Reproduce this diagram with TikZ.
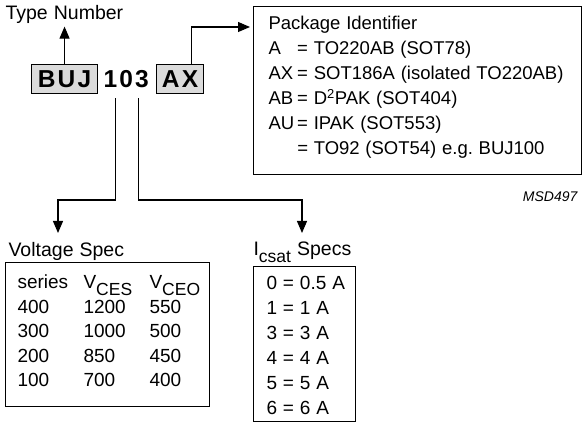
\documentclass[tikz,border=0pt]{standalone}
\usepackage{fontspec}
\setmainfont{Liberation Sans}
\newfontfamily\codefont[LetterSpace=9]{Liberation Sans Bold}
\usetikzlibrary{arrows.meta}
\newcommand{\lowsub}[1]{\raisebox{-6.5pt}{\fontsize{17.5}{17.5}\selectfont #1}}
\newcommand{\widesp}{\spaceskip=0.31em\relax}

\begin{document}
\begin{tikzpicture}[x=1pt,y=-1pt,line width=1.1pt,
  txt/.style={inner sep=0pt,font=\fontsize{19.5}{22}\selectfont\widesp},
  codebox/.style={draw,fill=black!14,minimum height=29pt,inner xsep=3pt,inner ysep=0pt,
    font=\codefont\fontsize{24.5}{24.5}\selectfont},
  box/.style={draw,anchor=north west,inner ysep=0pt,align=left},
  arr/.style={-{Triangle[length=12pt,width=10pt]}}]
  \useasboundingbox (0,0) rectangle (582,427); % Fix the page size
  \node[txt,anchor=base west] (type) at (5,20) {Type Number}; % Label the type
  \node[codebox,anchor=north west,minimum width=66pt] (buj) at (31,64) {BUJ}; % Type box
  \node[codebox,draw=none,fill=none,anchor=north west] (num) at (100,64) {103}; % Number
  \node[codebox,anchor=north west,minimum width=47pt] (ax) at (156,64) {AX}; % Package box
  \node[box,minimum width=328pt,minimum height=168pt,text width=298pt,inner xsep=15pt] (pkg) at (253,6)
    {\fontsize{18.5}{25}\selectfont\widesp
     \begin{tabular}{@{}l@{\hspace{3pt}}l@{}}
       \multicolumn{2}{@{}l}{Package Identifier}\\
       A  & = TO220AB (SOT78)\\
       AX & = SOT186A (isolated TO220AB)\\
       AB & = D\textsuperscript{2}PAK (SOT404)\\
       AU & = IPAK (SOT553)\\
          & = TO92 (SOT54) e.g.\ BUJ100\\[7pt]
     \end{tabular}}; % Package list
  \node[inner sep=0pt,anchor=base east,font=\itshape\fontsize{14}{14}\selectfont] (msd) at (578,202) {MSD497}; % Drawing number
  \node[txt,anchor=base west] (vlabel) at (8,257) {Voltage Spec}; % Label the voltages
  \node[box,minimum width=204pt,minimum height=144pt,text width=180pt,inner xsep=12pt] (vbox) at (5,262)
    {\fontsize{19}{24.5}\selectfont\widesp
     \begin{tabular}{@{}p{66pt}@{}p{66pt}@{}l@{}}
       series & V\lowsub{CES} & V\lowsub{CEO}\\
       400 & 1200 & 550\\
       300 & 1000 & 500\\
       200 & 850  & 450\\
       100 & 700  & 400\\[3pt]
     \end{tabular}}; % Voltage table
  \node[txt,anchor=base west] (ilabel) at (253,256) {I\lowsub{csat} Specs}; % Label the currents
  \node[box,minimum width=102pt,minimum height=155pt,text width=76pt,inner xsep=13pt] (ibox) at (253,266)
    {\fontsize{19}{25}\selectfont\widesp
     \begin{tabular}{@{}l@{}}
       \noalign{\vskip 5pt}
       0 = 0.5 A\\
       1 = 1 A\\
       3 = 3 A\\
       4 = 4 A\\
       5 = 5 A\\
       6 = 6 A
     \end{tabular}}; % Current table
  \coordinate (vbend) at (58,200); % Bend to the voltages
  \coordinate (vtip) at (58,233); % Tip over the voltages
  \coordinate (ibend) at (302,200); % Bend to the currents
  \coordinate (itip) at (302,233); % Tip over the currents
  \draw[arr,shorten >=2pt] (buj.north) -- (type.south -| buj.north); % Up to the type
  \draw[arr,shorten >=3pt] ([xshift=11.5pt]ax.north) |- ([yshift=-21pt]pkg.north west); % Across to the packages
  \draw[arr,shorten <=4pt] ([xshift=-10.5pt]num.south) |- (vbend) -- (vtip); % Down to the voltages
  \draw[arr,shorten <=4pt] ([xshift=12.5pt]num.south) |- (ibend) -- (itip); % Down to the currents
\end{tikzpicture}
\end{document}
